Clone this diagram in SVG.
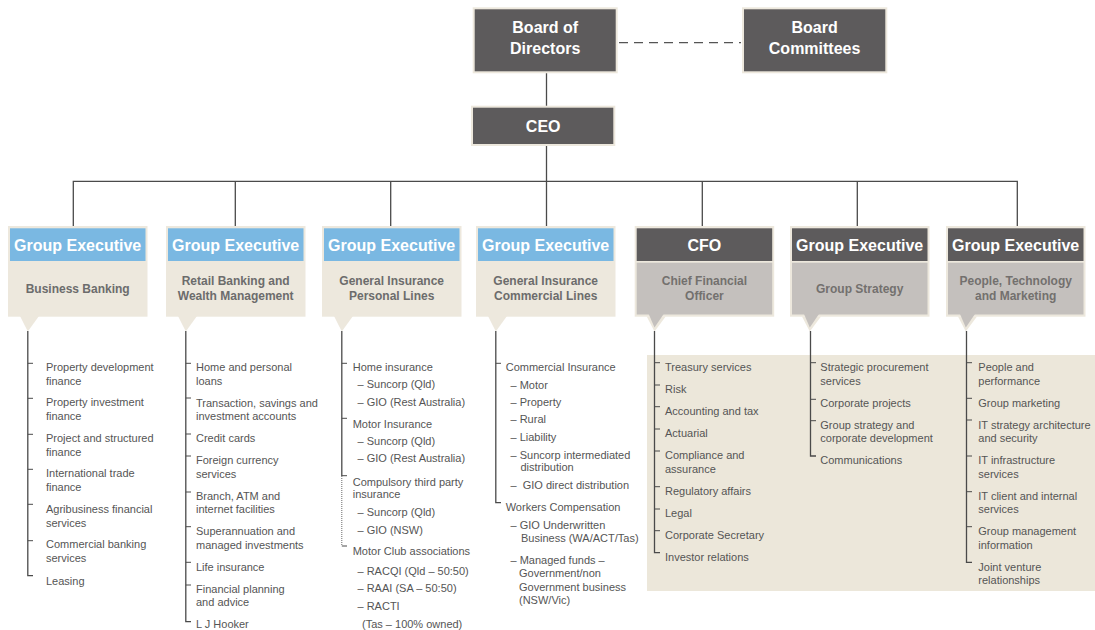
<svg xmlns="http://www.w3.org/2000/svg" width="1095" height="630" viewBox="0 0 1095 630">
<style>
.ln{stroke:#4a4a4a;stroke-width:1.3;fill:none}
.tk{stroke:#4a4a4a;stroke-width:1;fill:none}
.dot{stroke:#6a6a6a;stroke-width:1;fill:none;stroke-dasharray:1 1}
.dash{stroke:#555;stroke-width:1.3;fill:none;stroke-dasharray:9 6}
.out{fill:#ede8dd}
.dk{fill:#5d5b5c}
.bl{fill:#7ab8e2}
.gr{fill:#c4c0bd}
.tc{fill:#ede8dd}
.hd{font-family:"Liberation Sans",Arial,sans-serif;font-weight:bold;font-size:16px;fill:#fff;text-anchor:middle}
.sub{font-family:"Liberation Sans",Arial,sans-serif;font-weight:bold;font-size:12px;fill:#6c6c6c;text-anchor:middle}
.subg{font-family:"Liberation Sans",Arial,sans-serif;font-weight:bold;font-size:12px;fill:#73706e;text-anchor:middle}
.li{font-family:"Liberation Sans",Arial,sans-serif;font-size:11px;fill:#555}
</style>
<rect x="0" y="0" width="1095" height="630" fill="#fff"/>
<rect id="panel" x="647" y="355" width="448" height="236" fill="#ece7da"/>

<g id="connectors">
<path class="ln" d="M546.5,73 V106"/>
<path class="ln" d="M546.5,146 V181.3"/>
<path class="ln" d="M73.3,226 V181.3 H1017.3 V226"/>
<path class="ln" d="M235.3,181.3 V226 M390.7,181.3 V226 M546.5,181.3 V226 M702.3,181.3 V226 M857.3,181.3 V226"/>
<path class="dash" d="M619,42.7 H741"/>
</g>

<g id="board">
<rect class="out" x="472.7" y="7.3" width="145" height="66"/>
<rect class="dk" x="474.7" y="9.3" width="141" height="62"/>
<text class="hd" x="545.2" y="33">Board of</text>
<text class="hd" x="545.2" y="53.5">Directors</text>
</g>
<g id="committees">
<rect class="out" x="742" y="7.3" width="145.3" height="66"/>
<rect class="dk" x="744" y="9.3" width="141.3" height="62"/>
<text class="hd" x="814.6" y="33">Board</text>
<text class="hd" x="814.6" y="53.5">Committees</text>
</g>
<g id="ceo">
<rect class="out" x="471" y="105.7" width="144.3" height="40.3"/>
<rect class="dk" x="473" y="107.7" width="140.3" height="36.3"/>
<text class="hd" x="543.2" y="131.5">CEO</text>
</g>

<g id="ge-business-banking">
<rect class="out" x="8" y="226" width="139.5" height="90.7"/>
<rect class="bl" x="10" y="228.3" width="135.5" height="32.7"/>
<polygon class="tc" points="20,316 39,316 27.8,331.5"/>
<text class="hd" x="77.7" y="251">Group Executive</text>
<text class="sub" x="77.7" y="292.5">Business Banking</text>
</g>
<g id="ge-retail-banking">
<rect class="out" x="166" y="226" width="139.5" height="90.7"/>
<rect class="bl" x="168" y="228.3" width="135.5" height="32.7"/>
<polygon class="tc" points="178,316 197,316 185.8,331.5"/>
<text class="hd" x="235.7" y="251">Group Executive</text>
<text class="sub" x="235.7" y="285">Retail Banking and</text>
<text class="sub" x="235.7" y="300">Wealth Management</text>
</g>
<g id="ge-gi-personal">
<rect class="out" x="322" y="226" width="139.5" height="90.7"/>
<rect class="bl" x="324" y="228.3" width="135.5" height="32.7"/>
<polygon class="tc" points="334,316 353,316 341.8,331.5"/>
<text class="hd" x="391.7" y="251">Group Executive</text>
<text class="sub" x="391.7" y="285">General Insurance</text>
<text class="sub" x="391.7" y="300">Personal Lines</text>
</g>
<g id="ge-gi-commercial">
<rect class="out" x="476" y="226" width="139.5" height="90.7"/>
<rect class="bl" x="478" y="228.3" width="135.5" height="32.7"/>
<polygon class="tc" points="488,316 507,316 495.8,331.5"/>
<text class="hd" x="545.7" y="251">Group Executive</text>
<text class="sub" x="545.7" y="285">General Insurance</text>
<text class="sub" x="545.7" y="300">Commercial Lines</text>
</g>
<g id="cfo">
<rect class="out" x="634.7" y="226" width="139.5" height="90.7"/>
<rect class="dk" x="636.7" y="228.3" width="135.5" height="32.7"/>
<rect class="gr" x="636.7" y="262.7" width="135.5" height="51.8"/>
<polygon class="tc" points="646.7,316.5 665.7,316.5 654.5,331.5"/>
<polygon class="gr" points="648.7,314 663.7,314 654.5,327.5"/>
<text class="hd" x="704.4" y="251">CFO</text>
<text class="subg" x="704.4" y="285">Chief Financial</text>
<text class="subg" x="704.4" y="300">Officer</text>
</g>
<g id="ge-group-strategy">
<rect class="out" x="790" y="226" width="139.5" height="90.7"/>
<rect class="dk" x="792" y="228.3" width="135.5" height="32.7"/>
<rect class="gr" x="792" y="262.7" width="135.5" height="51.8"/>
<polygon class="tc" points="802,316.5 821,316.5 809.8,331.5"/>
<polygon class="gr" points="804,314 819,314 809.8,327.5"/>
<text class="hd" x="859.7" y="251">Group Executive</text>
<text class="subg" x="859.7" y="292.5">Group Strategy</text>
</g>
<g id="ge-people-tech">
<rect class="out" x="946" y="226" width="139.5" height="90.7"/>
<rect class="dk" x="948" y="228.3" width="135.5" height="32.7"/>
<rect class="gr" x="948" y="262.7" width="135.5" height="51.8"/>
<polygon class="tc" points="958,316.5 977,316.5 965.8,331.5"/>
<polygon class="gr" points="960,314 975,314 965.8,327.5"/>
<text class="hd" x="1015.7" y="251">Group Executive</text>
<text class="subg" x="1015.7" y="285">People, Technology</text>
<text class="subg" x="1015.7" y="300">and Marketing</text>
</g>

<g id="list-business-banking">
<path class="ln" d="M27.8,331 V575.7 H33"/>
<path class="tk" d="M27.8,363.3 H33 M27.8,398.3 H33 M27.8,434.3 H33 M27.8,469.3 H33 M27.8,504.3 H33 M27.8,540.7 H33"/>
<text class="li" x="46" y="370.7">Property development</text>
<text class="li" x="46" y="384.5">finance</text>
<text class="li" x="46" y="406.3">Property investment</text>
<text class="li" x="46" y="420">finance</text>
<text class="li" x="46" y="442.3">Project and structured</text>
<text class="li" x="46" y="455.5">finance</text>
<text class="li" x="46" y="477.3">International trade</text>
<text class="li" x="46" y="490.7">finance</text>
<text class="li" x="46" y="513.3">Agribusiness financial</text>
<text class="li" x="46" y="526.7">services</text>
<text class="li" x="46" y="548.3">Commercial banking</text>
<text class="li" x="46" y="562.3">services</text>
<text class="li" x="46" y="584.7">Leasing</text>
</g>

<g id="list-retail-banking">
<path class="ln" d="M185.8,331 V621.7 H191"/>
<path class="tk" d="M185.8,363.3 H191 M185.8,398 H191 M185.8,434 H191 M185.8,456 H191 M185.8,492 H191 M185.8,526.7 H191 M185.8,562.3 H191 M185.8,585 H191"/>
<text class="li" x="196" y="370.7">Home and personal</text>
<text class="li" x="196" y="385.2">loans</text>
<text class="li" x="196" y="407">Transaction, savings and</text>
<text class="li" x="196" y="420">investment accounts</text>
<text class="li" x="196" y="442.3">Credit cards</text>
<text class="li" x="196" y="464">Foreign currency</text>
<text class="li" x="196" y="478">services</text>
<text class="li" x="196" y="499.7">Branch, ATM and</text>
<text class="li" x="196" y="513">internet facilities</text>
<text class="li" x="196" y="535">Superannuation and</text>
<text class="li" x="196" y="549">managed investments</text>
<text class="li" x="196" y="571.3">Life insurance</text>
<text class="li" x="196" y="593">Financial planning</text>
<text class="li" x="196" y="606.3">and advice</text>
<text class="li" x="196" y="628">L J Hooker</text>
</g>

<g id="list-gi-personal">
<path class="ln" d="M341.8,331 V476"/>
<path class="dot" d="M341.8,476 V546"/>
<path class="tk" d="M341.8,546 H347 M341.8,363.3 H347 M341.8,418.3 H347 M341.8,475.7 H347"/>
<text class="li" x="352.7" y="370.7">Home insurance</text>
<text class="li" x="357.5" y="388.3">– Suncorp (Qld)</text>
<text class="li" x="357.5" y="406.3">– GIO (Rest Australia)</text>
<text class="li" x="352.7" y="428">Motor Insurance</text>
<text class="li" x="357.5" y="444.7">– Suncorp (Qld)</text>
<text class="li" x="357.5" y="462.3">– GIO (Rest Australia)</text>
<text class="li" x="352.7" y="485.7">Compulsory third party</text>
<text class="li" x="352.7" y="498">insurance</text>
<text class="li" x="357.5" y="516.3">– Suncorp (Qld)</text>
<text class="li" x="357.5" y="534">– GIO (NSW)</text>
<text class="li" x="352.7" y="555">Motor Club associations</text>
<text class="li" x="357.5" y="575">– RACQI (Qld – 50:50)</text>
<text class="li" x="357.5" y="592.3">– RAAI (SA – 50:50)</text>
<text class="li" x="357.5" y="610">– RACTI</text>
<text class="li" x="362" y="628">(Tas – 100% owned)</text>
</g>

<g id="list-gi-commercial">
<path class="ln" d="M495.8,331 V502.7 H501"/>
<path class="tk" d="M495.8,363.3 H501"/>
<text class="li" x="505.7" y="370.7">Commercial Insurance</text>
<text class="li" x="510.5" y="389">– Motor</text>
<text class="li" x="510.5" y="406.3">– Property</text>
<text class="li" x="510.5" y="423.3">– Rural</text>
<text class="li" x="510.5" y="441.3">– Liability</text>
<text class="li" x="510.5" y="459">– Suncorp intermediated</text>
<text class="li" x="520.5" y="471.3">distribution</text>
<text class="li" x="510.5" y="489" xml:space="preserve">–  GIO direct distribution</text>
<text class="li" x="505.7" y="511.3">Workers Compensation</text>
<text class="li" x="510.5" y="529">– GIO Underwritten</text>
<text class="li" x="521" y="542.3">Business (WA/ACT/Tas)</text>
<text class="li" x="510.5" y="564">– Managed funds –</text>
<text class="li" x="519" y="577.3">Government/non</text>
<text class="li" x="519" y="590.7">Government business</text>
<text class="li" x="519" y="604">(NSW/Vic)</text>
</g>

<g id="list-cfo">
<path class="ln" d="M654.5,331 V552.7 H660"/>
<path class="tk" d="M654.5,362.7 H660 M654.5,385 H660 M654.5,406.7 H660 M654.5,429 H660 M654.5,451 H660 M654.5,486.7 H660 M654.5,509 H660 M654.5,530.7 H660"/>
<text class="li" x="665" y="370.7">Treasury services</text>
<text class="li" x="665" y="393">Risk</text>
<text class="li" x="665" y="415">Accounting and tax</text>
<text class="li" x="665" y="437">Actuarial</text>
<text class="li" x="665" y="459">Compliance and</text>
<text class="li" x="665" y="473">assurance</text>
<text class="li" x="665" y="495">Regulatory affairs</text>
<text class="li" x="665" y="517">Legal</text>
<text class="li" x="665" y="539">Corporate Secretary</text>
<text class="li" x="665" y="561">Investor relations</text>
</g>

<g id="list-group-strategy">
<path class="ln" d="M810.5,331 V456 H816"/>
<path class="tk" d="M810.5,362.7 H816 M810.5,399.3 H816 M810.5,420.7 H816"/>
<text class="li" x="820.3" y="370.7">Strategic procurement</text>
<text class="li" x="820.3" y="385">services</text>
<text class="li" x="820.3" y="406.7">Corporate projects</text>
<text class="li" x="820.3" y="429">Group strategy and</text>
<text class="li" x="820.3" y="441.7">corporate development</text>
<text class="li" x="820.3" y="464">Communications</text>
</g>

<g id="list-people-tech">
<path class="ln" d="M966.5,331 V562.3 H972"/>
<path class="tk" d="M966.5,362.7 H972 M966.5,398.3 H972 M966.5,420 H972 M966.5,456 H972 M966.5,491.7 H972 M966.5,526.7 H972"/>
<text class="li" x="978.3" y="370.7">People and</text>
<text class="li" x="978.3" y="385">performance</text>
<text class="li" x="978.3" y="406.7">Group marketing</text>
<text class="li" x="978.3" y="429">IT strategy architecture</text>
<text class="li" x="978.3" y="441.7">and security</text>
<text class="li" x="978.3" y="464">IT infrastructure</text>
<text class="li" x="978.3" y="478">services</text>
<text class="li" x="978.3" y="499.7">IT client and internal</text>
<text class="li" x="978.3" y="513">services</text>
<text class="li" x="978.3" y="535">Group management</text>
<text class="li" x="978.3" y="549">information</text>
<text class="li" x="978.3" y="570.7">Joint venture</text>
<text class="li" x="978.3" y="584">relationships</text>
</g>
</svg>
